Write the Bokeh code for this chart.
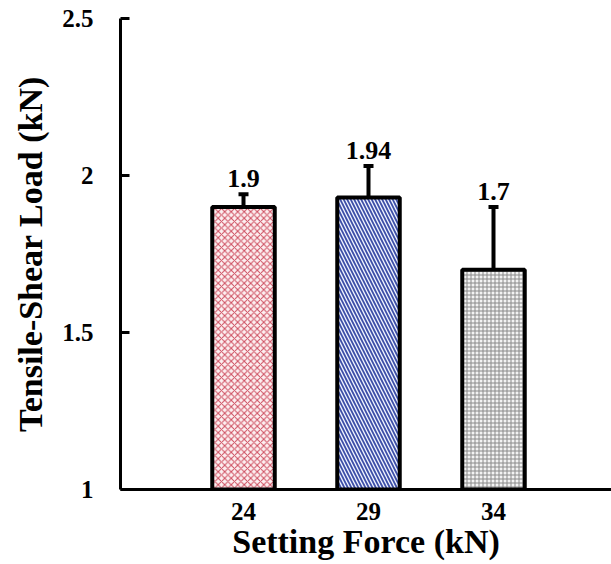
from bokeh.plotting import figure
from bokeh.models import ColumnDataSource, Whisker, FixedTicker, Range1d
from bokeh.core.properties import value
from bokeh.embed import file_html
from bokeh.resources import INLINE

categories = ["24", "29", "34"]
loads = [1.90, 1.93, 1.70]
err_upper = [1.94, 2.03, 1.90]
err_lower = [1.88, 1.77, 1.55]
labels = ["1.9", "1.94", "1.7"]
hatches = ["x", "\\", "+"]
hatch_colors = ["#cc4a5c", "#3d4fa8", "#8a8a8a"]
fill_colors = ["#fdf0f1", "#f2f5ff", "#f3f3f3"]
hatch_scales = [6.5, 7, 4]
hatch_weights = [1, 1.8, 1]
y_ticks = [1, 1.5, 2, 2.5]

xpos = [i + 1 for i in range(len(categories))]
src = ColumnDataSource(dict(x=xpos, top=loads, up=err_upper, lo=err_lower,
                            lab=labels, hp=hatches, hc=hatch_colors,
                            fc=fill_colors, hs=hatch_scales, hw=hatch_weights))

FONT = "Liberation Serif"

p = figure(width=611, height=564, output_backend="svg", toolbar_location=None,
           x_range=Range1d(0.016, 3.944), y_range=Range1d(1, 2.5),
           min_border_left=120, min_border_right=0, min_border_top=18,
           min_border_bottom=75)
p.outline_line_color = None
p.grid.visible = False

p.vbar(x="x", top="top", bottom=1, width=0.5, source=src,
       fill_color="fc", line_color="black", line_width=4,
       hatch_pattern="hp", hatch_color="hc", hatch_scale="hs", hatch_weight="hw")

w = Whisker(base="x", upper="up", lower="lo", source=src,
            line_color="black", line_width=4)
w.upper_head.size = 10
w.upper_head.line_width = 4
w.lower_head.size = 10
w.lower_head.line_width = 4
p.add_layout(w)

p.text(x="x", y="up", text="lab", source=src, text_align="center",
       text_baseline="bottom", y_offset=-7, text_font=value(FONT),
       text_font_style="bold", text_font_size="26px", text_color="black")

p.xaxis.ticker = FixedTicker(ticks=xpos)
p.xaxis.major_label_overrides = {x: c for x, c in zip(xpos, categories)}
p.xaxis.major_tick_in = 0
p.xaxis.major_tick_out = 0
p.xaxis.minor_tick_line_color = None
p.xaxis.major_label_standoff = 13
p.xaxis.axis_label = "Setting Force (kN)"

p.yaxis.ticker = FixedTicker(ticks=y_ticks)
p.yaxis.major_label_overrides = {1: "1", 1.5: "1.5", 2: "2", 2.5: "2.5"}
p.yaxis.major_tick_in = 9
p.yaxis.major_tick_out = 0
p.yaxis.minor_tick_line_color = None
p.yaxis.major_label_standoff = 27
p.yaxis.axis_label = "Tensile-Shear Load (kN)"

for ax in (p.xaxis, p.yaxis):
    ax.axis_line_color = "black"
    ax.axis_line_width = 3
    ax.major_tick_line_width = 3
    ax.major_tick_line_color = "black"
    ax.major_label_text_font = FONT
    ax.major_label_text_font_style = "bold"
    ax.major_label_text_font_size = "25px"
    ax.major_label_text_color = "black"
    ax.axis_label_text_font = FONT
    ax.axis_label_text_font_style = "bold"
    ax.axis_label_text_font_size = "34px"
    ax.axis_label_text_color = "black"
p.xaxis.axis_label_standoff = 0
p.yaxis.axis_label_standoff = 10

open("out.html", "w").write(file_html(p, INLINE))
